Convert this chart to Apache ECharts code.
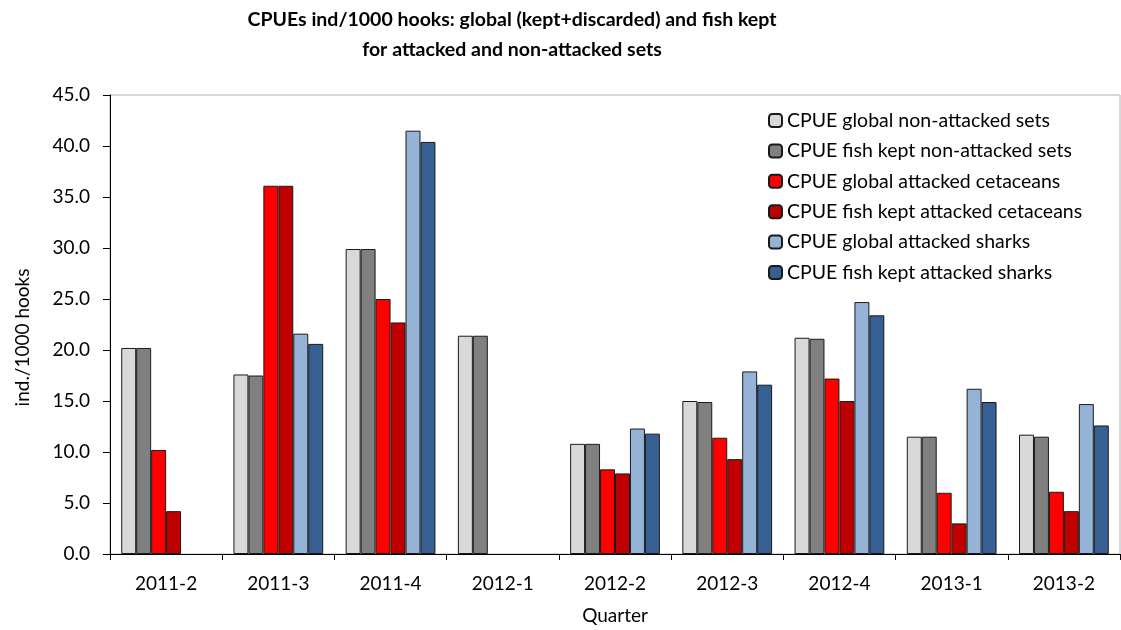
<!DOCTYPE html>
<html>
<head>
<meta charset="utf-8">
<script src="https://cdn.jsdelivr.net/npm/echarts@6/dist/echarts.min.js"></script>
<style>
html,body{margin:0;padding:0;background:#fff;}
#chart{width:1121px;height:630px;}
</style>
</head>
<body>
<div id="chart"></div>
<script>
const categories = ['2011-2','2011-3','2011-4','2012-1','2012-2','2012-3','2012-4','2013-1','2013-2'];
const seriesNames = [
  'CPUE global non-attacked sets',
  'CPUE fish kept non-attacked sets',
  'CPUE global attacked cetaceans',
  'CPUE fish kept attacked cetaceans',
  'CPUE global attacked sharks',
  'CPUE fish kept attacked sharks'
];
const globalNonAttacked   = [20.2, 17.6, 29.9, 21.4, 10.8, 15.0, 21.2, 11.5, 11.7];
const keptNonAttacked     = [20.2, 17.5, 29.9, 21.4, 10.8, 14.9, 21.1, 11.5, 11.5];
const globalCetaceans     = [10.2, 36.1, 25.0, null, 8.3, 11.4, 17.2, 6.0, 6.1];
const keptCetaceans       = [4.2, 36.1, 22.7, null, 7.9, 9.3, 15.0, 3.0, 4.2];
const globalSharks        = [null, 21.6, 41.5, null, 12.3, 17.9, 24.7, 16.2, 14.7];
const keptSharks          = [null, 20.6, 40.4, null, 11.8, 16.6, 23.4, 14.9, 12.6];
const seriesValues = [globalNonAttacked, keptNonAttacked, globalCetaceans, keptCetaceans, globalSharks, keptSharks];
const colors = ['#d9d9d9', '#808080', '#ff0000', '#c00000', '#95b3d7', '#366092'];

const FONT = 'Lato';
const chart = echarts.init(document.getElementById('chart'), null, {renderer: 'canvas'});
chart.setOption({
  animation: false,
  backgroundColor: '#fff',
  textStyle: {fontFamily: FONT},
  title: {
    text: 'CPUEs ind/1000 hooks: global (kept+discarded) and fish kept\nfor attacked and non-attacked sets',
    left: 512,
    top: 5,
    padding: 0,
    textAlign: 'center',
    textStyle: {fontFamily: FONT, fontSize: 19.5, fontWeight: 'bold', lineHeight: 30, color: '#000'}
  },
  legend: {
    orient: 'vertical',
    left: 768,
    top: 110.5,
    padding: 0,
    itemWidth: 13,
    itemHeight: 13,
    itemGap: 10.4,
    textStyle: {fontFamily: FONT, fontSize: 19.5, lineHeight: 20, color: '#000'},
    data: seriesNames
  },
  grid: {
    left: 110, right: 1, top: 95, bottom: 76,
    show: true, borderColor: '#b0b0b0', borderWidth: 1, backgroundColor: '#fff'
  },
  xAxis: {
    type: 'category',
    data: categories,
    name: 'Quarter',
    nameLocation: 'middle',
    nameGap: 52,
    nameTextStyle: {fontFamily: FONT, fontSize: 19, color: '#000'},
    axisLine: {lineStyle: {color: '#000', width: 1}},
    axisTick: {show: true, length: 6, lineStyle: {color: '#000'}},
    axisLabel: {fontFamily: FONT, fontSize: 19, color: '#000', margin: 20}
  },
  yAxis: {
    type: 'value',
    min: 0, max: 45, interval: 5,
    name: 'ind./1000 hooks',
    nameLocation: 'middle',
    nameGap: 78,
    nameTextStyle: {fontFamily: FONT, fontSize: 19, color: '#000', padding: [0, 26, 0, 0]},
    axisLine: {show: true, lineStyle: {color: '#000', width: 1}},
    axisTick: {show: true, length: 7, lineStyle: {color: '#000'}},
    splitLine: {show: false},
    axisLabel: {fontFamily: FONT, fontSize: 19, color: '#000', margin: 20,
      formatter: v => v.toFixed(1)}
  },
  series: seriesNames.map((n, i) => ({
    name: n,
    type: 'bar',
    data: seriesValues[i],
    barGap: '0%',
    barCategoryGap: '20%',
    itemStyle: {color: colors[i], borderColor: '#1a1a1a', borderWidth: 1}
  }))
});
</script>
</body>
</html>
